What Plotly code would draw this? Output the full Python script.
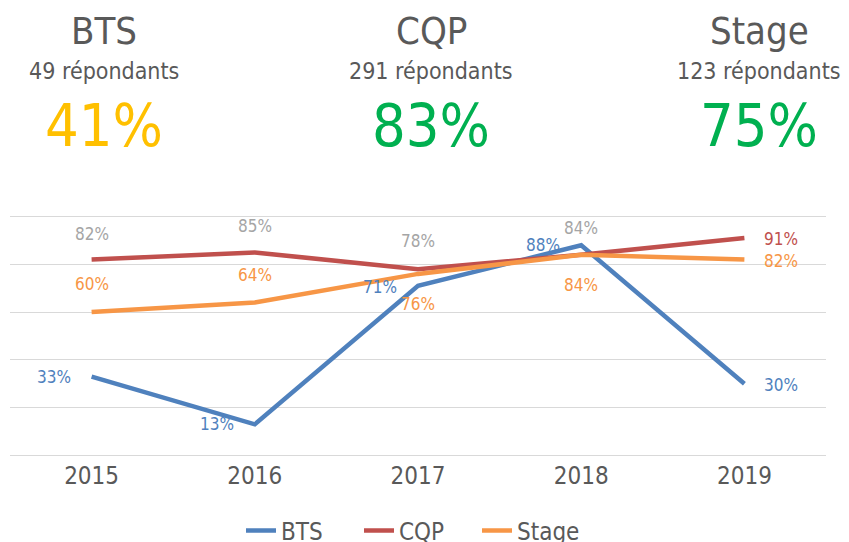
import plotly.graph_objects as go

years = ["2015", "2016", "2017", "2018", "2019"]
bts = [33, 13, 71, 88, 30]
cqp = [82, 85, 78, 84, 91]
stage = [60, 64, 76, 84, 82]

series_names = ["BTS", "CQP", "Stage"]
respondents = ["49 répondants", "291 répondants", "123 répondants"]
headline = ["41%", "83%", "75%"]

FONT = "DejaVu Sans Condensed, sans-serif"
colors = {"BTS": "#4F81BD", "CQP": "#C0504D", "Stage": "#F79646"}

fig = go.Figure()
for name, vals in [("BTS", bts), ("CQP", cqp), ("Stage", stage)]:
    fig.add_trace(go.Scatter(x=years, y=vals, mode="lines", name=name,
                             line=dict(color=colors[name], width=4.5)))

ann = []
bts_off = [(-38, 0), (-38, 0), (-38, -1), (-38, 0), (37, -1)]
cqp_off = [(0, 26), (0, 26), (0, 28), (0, 27), (37, -1)]
cqp_col = ["#A5A5A5"] * 4 + ["#C0504D"]
stage_off = [(0, 28), (0, 28), (0, -30), (0, -30), (37, -1)]

def fmt(v):
    return f"{v}%"

for i in range(len(years)):
    ann.append(dict(x=i, y=bts[i], xref="x", yref="y", text=fmt(bts[i]), showarrow=False,
                    xshift=bts_off[i][0], yshift=bts_off[i][1],
                    font=dict(family=FONT, size=17, color="#4F81BD")))
    ann.append(dict(x=i, y=cqp[i], xref="x", yref="y", text=fmt(cqp[i]), showarrow=False,
                    xshift=cqp_off[i][0], yshift=cqp_off[i][1],
                    font=dict(family=FONT, size=17, color=cqp_col[i])))
    ann.append(dict(x=i, y=stage[i], xref="x", yref="y", text=fmt(stage[i]), showarrow=False,
                    xshift=stage_off[i][0], yshift=stage_off[i][1],
                    font=dict(family=FONT, size=17, color="#F79646")))

# page has an 8px body margin; figure sized to fit the window
OFF = 8
W, H = 841, 534
L, R, T, B = 2, 23, 205, 83
PW, PH = W - L - R, H - T - B

def px(xs):
    return (xs - OFF - L) / PW

def py(ys):
    return (H - B - (ys - OFF)) / PH

head_x = [104, 431, 759]
head_col = ["#FFC000", "#00B050", "#00B050"]
for i in range(3):
    ann.append(dict(x=px(head_x[i]), y=py(31), xref="paper", yref="paper",
                    text=series_names[i], showarrow=False, xanchor="center", yanchor="middle",
                    font=dict(family=FONT, size=38, color="#595959")))
    ann.append(dict(x=px(head_x[i]), y=py(71), xref="paper", yref="paper",
                    text=respondents[i], showarrow=False, xanchor="center", yanchor="middle",
                    font=dict(family=FONT, size=23, color="#595959")))
    ann.append(dict(x=px(head_x[i]), y=py(125), xref="paper", yref="paper",
                    text=headline[i], showarrow=False, xanchor="center", yanchor="middle",
                    font=dict(family=FONT, size=59, color=head_col[i])))

fig.update_layout(
    width=W, height=H,
    margin=dict(l=L, r=R, t=T, b=B, autoexpand=False),
    paper_bgcolor="white", plot_bgcolor="white",
    showlegend=True,
    legend=dict(orientation="h", x=0.5, xanchor="center", y=py(531), yanchor="middle",
                font=dict(family=FONT, size=24, color="#595959"),
                bgcolor="rgba(0,0,0,0)", itemwidth=30, entrywidth=73),
    xaxis=dict(type="category", range=[-0.5, 4.5], showgrid=False, zeroline=False,
               showline=False, ticks="", tickfont=dict(family=FONT, size=24, color="#595959")),
    yaxis=dict(range=[-1.5, 101.5], tickvals=[0, 20, 40, 60, 80, 100], showticklabels=False,
               gridcolor="#D9D9D9", gridwidth=1.3, zeroline=False, showline=False,
               fixedrange=True),
    annotations=ann,
)

fig.write_html("out.html")
